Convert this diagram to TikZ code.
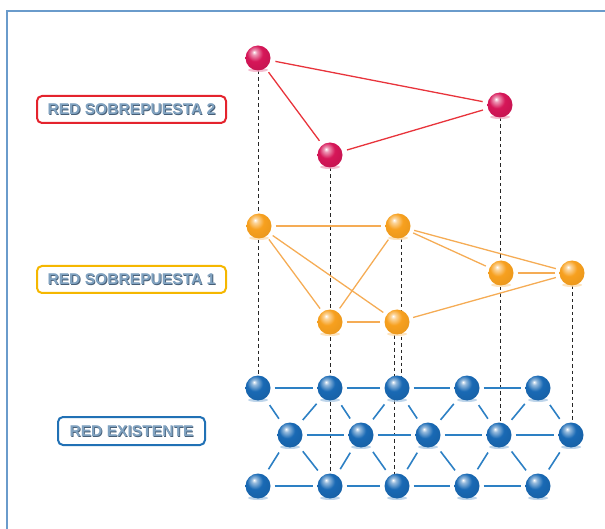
\documentclass[tikz,border=0pt]{standalone}
\usepackage{fontspec}
\setmainfont{Liberation Sans}
\usetikzlibrary{calc}
\definecolor{frameblue}{RGB}{106,155,203}
\definecolor{redA}{RGB}{214,22,88}
\definecolor{orA}{RGB}{247,160,30}
\definecolor{blA}{RGB}{25,105,180}
\definecolor{redE}{RGB}{232,52,60}
\definecolor{orE}{RGB}{245,172,85}
\definecolor{blE}{RGB}{45,128,196}
\definecolor{lblred}{RGB}{228,35,45}
\definecolor{lblor}{RGB}{245,183,0}
\definecolor{lblbl}{RGB}{33,113,181}
\definecolor{txtA}{RGB}{128,162,192}
\definecolor{txtS}{RGB}{72,96,120}
\pgfdeclareradialshading{sphred}{\pgfpoint{-8bp}{12bp}}{color(0bp)=(white); color(5bp)=(redA!45!white); color(16bp)=(redA); color(42bp)=(redA!88!black); color(70bp)=(redA!70!black)}
\pgfdeclareradialshading{sphor}{\pgfpoint{-8bp}{12bp}}{color(0bp)=(white); color(5bp)=(orA!45!white); color(16bp)=(orA); color(42bp)=(orA!92!black); color(70bp)=(orA!80!black)}
\pgfdeclareradialshading{sphbl}{\pgfpoint{-8bp}{12bp}}{color(0bp)=(white); color(5bp)=(blA!45!white); color(16bp)=(blA); color(42bp)=(blA!88!black); color(70bp)=(blA!70!black)}
\tikzset{
  sph/.style={circle, minimum size=25, inner sep=0pt, draw=none},
  redsph/.style={sph, shading=sphred},
  orsph/.style={sph, shading=sphor},
  blsph/.style={sph, shading=sphbl},
  dashln/.style={black!85, line width=1, dash pattern=on 3.5 off 3},
  redln/.style={redE, line width=1.3, shorten <=5, shorten >=5},
  orln/.style={orE, line width=1.3, shorten <=4, shorten >=4},
  blh/.style={blE, line width=1.6, shorten <=4, shorten >=4},
  bld/.style={blE, line width=1.6, shorten <=8, shorten >=7},
  lblbox/.style={rounded corners=5, line width=2, fill=white, minimum height=27, inner sep=0pt},
  lbltxt/.style={font=\bfseries\fontsize{15.6}{17}\selectfont, text=txtA, inner sep=0pt},
  lblshd/.style={font=\bfseries\fontsize{15.6}{17}\selectfont, text=txtS, inner sep=0pt},
}
\newcommand{\mysph}[4]{%
  \fill[#4A!40!white, opacity=0.7] (#2,#3+12) ellipse (10 and 2);
  \node[#4sph] (#1) at (#2,#3) {};
}
\begin{document}
\begin{tikzpicture}[x=1pt, y=-1pt]
\useasboundingbox (0,0) rectangle (605,529);
% frame
\coordinate (ftl) at (7,11);
\coordinate (ftr) at (605,11);
\coordinate (fbl) at (7,529);
\draw[frameblue, line width=2.5] (ftr) -- (ftl) -- (fbl);

% coordinates of spheres
\coordinate (R1) at (258,58);
\coordinate (R2) at (500,105);
\coordinate (R3) at (330,155);
\coordinate (O1) at (259,226);
\coordinate (O2) at (398,226);
\coordinate (O3) at (501,273);
\coordinate (O4) at (572,273);
\coordinate (O5) at (330,322);
\coordinate (O6) at (397,322);
\foreach \i/\x in {1/258,2/330,3/397,4/467,5/538}{
  \coordinate (a\i) at (\x,388);
  \coordinate (c\i) at (\x,486);
}
\foreach \i/\x in {1/290,2/361,3/428,4/499,5/571}{
  \coordinate (b\i) at (\x,435);
}

% dashed vertical links
\draw[dashln] (R1) -- (a1);
\draw[dashln] (R3) -- (c2);
\draw[dashln] ([xshift=3]O2) -- ([xshift=3]O2 |- a3);
\draw[dashln] ([xshift=-3]O6) -- ([xshift=-3]O6 |- c3);
\draw[dashln] (R2) -- (R2 |- b4);
\draw[dashln] (O4) -- (O4 |- b5);

% spheres
\mysph{r1}{258}{58}{red}
\mysph{r2}{500}{105}{red}
\mysph{r3}{330}{155}{red}
\mysph{o1}{259}{226}{or}
\mysph{o2}{398}{226}{or}
\mysph{o3}{501}{273}{or}
\mysph{o4}{572}{273}{or}
\mysph{o5}{330}{322}{or}
\mysph{o6}{397}{322}{or}
\foreach \i/\x in {1/258,2/330,3/397,4/467,5/538}{
  \mysph{na\i}{\x}{388}{bl}
  \mysph{nc\i}{\x}{486}{bl}
}
\foreach \i/\x in {1/290,2/361,3/428,4/499,5/571}{
  \mysph{nb\i}{\x}{435}{bl}
}

% red edges
\draw[redln] (r1) -- (r2);
\draw[redln] (r1) -- (r3);
\draw[redln] (r3) -- (r2);
% orange edges
\draw[orln] (o1) -- (o2);
\draw[orln] (o1) -- (o5);
\draw[orln] (o1) -- (o6);
\draw[orln] (o2) -- (o5);
\draw[orln] (o2) -- (o3);
\draw[orln] (o2) -- (o4);
\draw[orln] (o3) -- (o4);
\draw[orln] (o5) -- (o6);
\draw[orln] (o6) -- (o4);
% blue edges
\foreach \i/\j in {1/2,2/3,3/4,4/5}{
  \draw[blh] (na\i) -- (na\j);
  \draw[blh] (nb\i) -- (nb\j);
  \draw[blh] (nc\i) -- (nc\j);
}
\foreach \i in {1,...,5}{
  \draw[bld] (na\i) -- (nb\i);
  \draw[bld] (nb\i) -- (nc\i);
}
\foreach \i/\j in {1/2,2/3,3/4,4/5}{
  \draw[bld] (na\j) -- (nb\i);
  \draw[bld] (nb\i) -- (nc\j);
}

% labels
\node[lblbox, draw=lblred, minimum width=189] (L2) at (131.5,109.5) {};
\node[lblshd] (L2s) at ($(L2)+(0.8,0.9)$) {RED SOBREPUESTA 2};
\node[lbltxt] (L2t) at (L2) {RED SOBREPUESTA 2};
\node[lblbox, draw=lblor, minimum width=189] (L1) at (131.5,279.5) {};
\node[lblshd] (L1s) at ($(L1)+(0.8,0.9)$) {RED SOBREPUESTA 1};
\node[lbltxt] (L1t) at (L1) {RED SOBREPUESTA 1};
\node[lblbox, draw=lblbl, minimum width=147, minimum height=28] (L0) at (131.5,431) {};
\node[lblshd] (L0s) at ($(L0)+(0.8,0.9)$) {RED EXISTENTE};
\node[lbltxt] (L0t) at (L0) {RED EXISTENTE};
\end{tikzpicture}
\end{document}
